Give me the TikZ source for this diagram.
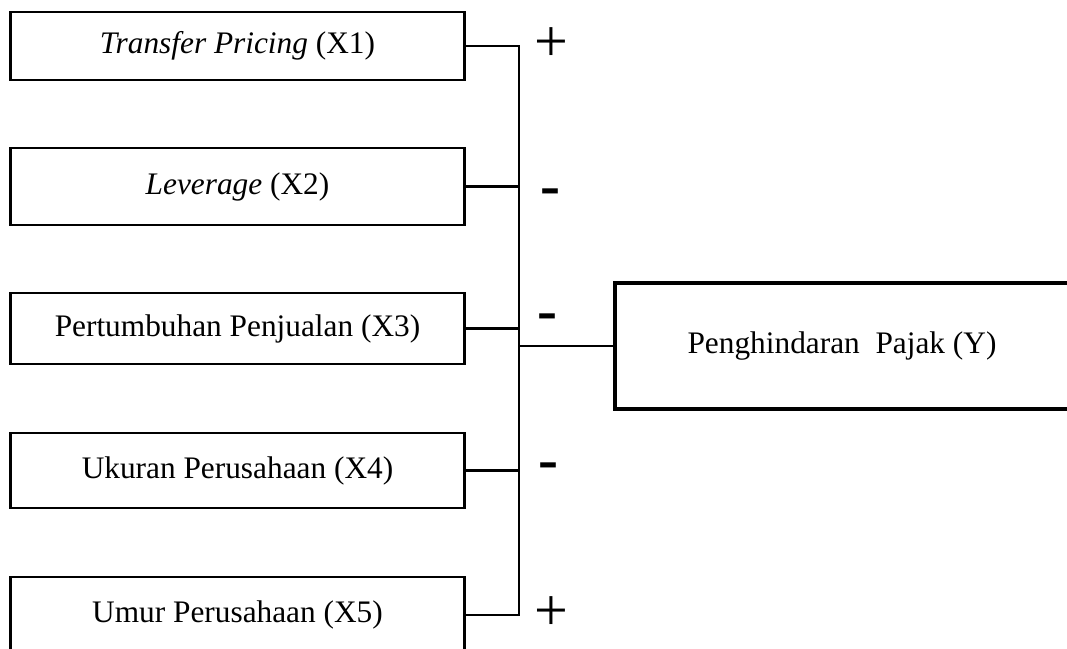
\documentclass[tikz,border=0pt]{standalone}
\usepackage{fontspec}
\setmainfont{Liberation Serif}
\usetikzlibrary{positioning}
\tikzset{
  varbox/.style={draw=black,line width=2.2pt,
                 minimum width=341pt,minimum height=54pt,
                 inner sep=0pt,align=center,font=\fontsize{23.5}{28}\selectfont},
  depbox/.style={draw=black,line width=2.4pt,
                 minimum width=340.5pt,minimum height=94.5pt,
                 inner sep=0pt,align=center,font=\fontsize{23.5}{28}\selectfont},
  link/.style={line width=1.8pt},
  busline/.style={line width=2.2pt},
  signlbl/.style={inner sep=0pt,font=\fontsize{45}{50}\selectfont}
}

\begin{document}
\begin{tikzpicture}[x=0.75pt,y=-0.75pt]
  \useasboundingbox (0,0) rectangle (1067,649);
  \node[varbox,minimum height=51pt] (x1) at (237.5,46) {\textit{Transfer Pricing} (X1)};
  \node[varbox,minimum height=57.75pt] (x2) at (237.5,186.5) {\textit{Leverage} (X2)};
  \node[varbox,minimum height=53.25pt] (x3) at (237.5,328.5) {Pertumbuhan Penjualan (X3)};
  \node[varbox,minimum height=56.25pt] (x4) at (237.5,470.5) {Ukuran Perusahaan (X4)};
  \node[varbox,minimum height=57pt] (x5) at (237.5,615) {Umur Perusahaan (X5)};
  \node[depbox] (y) at (842,346) {Penghindaran~~Pajak (Y)};
  \coordinate (bus) at (519,346);
  \node[signlbl] (p1) at (551,45) {+};
  \node[signlbl] (m2) at (550,197) {\textbf{-}};
  \node[signlbl] (m3) at (547,322) {\textbf{-}};
  \node[signlbl] (m4) at (548,471) {\textbf{-}};
  \node[signlbl] (p5) at (551,614) {+};
  \draw[busline] (x1.east) -- (x1.east -| bus) |- (x5.east);
  \draw[link] (x2.east) -- (x2.east -| bus);
  \draw[link] (x3.east) -- (x3.east -| bus);
  \draw[link] (x4.east) -- (x4.east -| bus);
  \draw[busline] (bus) -- (y.west);
\end{tikzpicture}
\end{document}
